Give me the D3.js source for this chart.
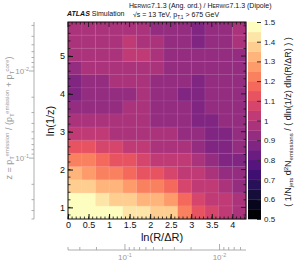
<!DOCTYPE html>
<html>
<head>
<meta charset="utf-8">
<script src="https://cdn.jsdelivr.net/npm/d3@7"></script>
<style>
  body { margin: 0; background: #fff; }
  svg { font-family: "Liberation Sans", Arial, sans-serif; }
</style>
</head>
<body>
<svg id="chart" width="297" height="264"></svg>
<script>
// bin edges of the Lund plane
var rEdges = [0, 0.333, 0.667, 1, 1.333, 1.667, 2, 2.333, 2.667, 3, 3.333, 3.667, 4, 4.333];
var zEdges = [0.693, 1.04, 1.387, 1.734, 2.081, 2.429, 2.776, 3.123, 3.47, 3.817, 4.164, 4.511, 4.858, 5.206, 5.553, 5.9];

// Herwig ang. ord. / dipole ratio, rows = ln(1/z) bins from bottom, cols = ln(R/dR) bins
var ratio = [
  [1.50, 1.49, 1.46, 1.45, 1.43, 1.40, 1.38, 1.36, 1.24, 1.12, 1.08, 1.02, 0.98],
  [1.47, 1.45, 1.40, 1.38, 1.36, 1.32, 1.30, 1.25, 1.15, 1.08, 1.04, 1.00, 0.96],
  [1.38, 1.36, 1.32, 1.30, 1.28, 1.24, 1.20, 1.15, 1.08, 1.04, 1.00, 0.97, 0.94],
  [1.30, 1.27, 1.22, 1.20, 1.18, 1.14, 1.10, 1.06, 1.03, 1.00, 0.96, 0.93, 0.90],
  [1.22, 1.20, 1.18, 1.14, 1.10, 1.06, 1.04, 1.02, 1.00, 0.96, 0.92, 0.89, 0.88],
  [1.14, 1.10, 1.08, 1.05, 1.03, 1.00, 0.98, 0.97, 0.95, 0.92, 0.89, 0.88, 0.90],
  [1.04, 1.02, 1.00, 0.98, 0.98, 0.97, 0.96, 0.95, 0.93, 0.90, 0.88, 0.89, 0.90],
  [0.98, 0.95, 0.95, 0.96, 0.95, 0.96, 0.94, 0.93, 0.92, 0.89, 0.88, 0.90, 0.91],
  [0.93, 0.92, 0.94, 0.94, 0.95, 0.95, 0.94, 0.92, 0.90, 0.88, 0.90, 0.92, 0.92],
  [0.88, 0.90, 0.93, 0.94, 0.94, 0.95, 0.93, 0.92, 0.89, 0.88, 0.90, 0.91, 0.92],
  [0.89, 0.92, 0.94, 0.95, 0.95, 0.96, 0.94, 0.93, 0.90, 0.89, 0.90, 0.92, 0.93],
  [0.94, 0.96, 0.96, 0.97, 0.98, 0.97, 0.95, 0.94, 0.91, 0.90, 0.91, 0.92, 0.94],
  [0.98, 0.97, 0.98, 0.97, 1.02, 1.00, 0.96, 0.94, 0.92, 0.90, 0.90, 0.92, 0.94],
  [0.98, 0.99, 0.98, 0.98, 1.00, 0.98, 0.96, 0.94, 0.91, 0.89, 0.90, 0.91, 0.95],
  [0.99, 0.98, 0.97, 0.98, 0.98, 0.96, 0.94, 0.93, 0.90, 0.89, 0.90, 0.91, 0.98]
];

var xTicks = [0, 0.5, 1, 1.5, 2, 2.5, 3, 3.5, 4];
var yTicks = [1, 2, 3, 4, 5];
var cTicks = [0.5, 0.6, 0.7, 0.8, 0.9, 1, 1.1, 1.2, 1.3, 1.4, 1.5];
var zTicks = [0.1, 0.01];
var dRTicks = [0.1, 0.01];
var jetR = 0.4;

var svg = d3.select("#chart");
var pl = 68, pr = 246, pt = 22, pb = 219;

var x = d3.scaleLinear().domain([0, 4.333]).range([pl, pr]);
var y = d3.scaleLinear().domain([0.693, 5.9]).range([pb, pt]);
var c = d3.scaleLinear().domain([0.5, 1.5]).range([pb, pt]);
var color = d3.scaleQuantize().domain([0.5, 1.5])
  .range(d3.range(20).map(function (i) { return d3.interpolateMagma(i / 19); }));

// rich text with sub/superscripts
function rich(t, parts, fs) {
  var cur = 0;
  parts.forEach(function (p) {
    var off = p[1] === "sup" ? -0.38 * fs : p[1] === "sub" ? 0.25 * fs : 0;
    t.append("tspan").attr("dy", off - cur)
      .attr("font-size", p[1] === "n" ? fs : p[1] === "sc" ? fs * 0.72 : fs * 0.68)
      .text(p[0]);
    cur = off;
  });
}

// cells
var cells = [];
ratio.forEach(function (row, i) {
  row.forEach(function (v, j) { cells.push({ i: i, j: j, v: v }); });
});
svg.append("g").selectAll("rect").data(cells).enter().append("rect")
  .attr("x", function (d) { return x(rEdges[d.j]); })
  .attr("y", function (d) { return y(zEdges[d.i + 1]); })
  .attr("width", function (d) { return x(rEdges[d.j + 1]) - x(rEdges[d.j]) + 0.3; })
  .attr("height", function (d) { return y(zEdges[d.i]) - y(zEdges[d.i + 1]) + 0.3; })
  .attr("fill", function (d) { return color(d.v); });

// faint bin grid
var grid = svg.append("g").attr("stroke", "#fff").attr("stroke-opacity", 0.13).attr("stroke-width", 0.8);
rEdges.slice(1, -1).forEach(function (e) {
  grid.append("line").attr("x1", x(e)).attr("x2", x(e)).attr("y1", pt).attr("y2", pb);
});
zEdges.slice(1, -1).forEach(function (e) {
  grid.append("line").attr("x1", pl).attr("x2", pr).attr("y1", y(e)).attr("y2", y(e));
});

// axes
var xAxis = svg.append("g").attr("transform", "translate(0," + pb + ")")
  .call(d3.axisBottom(x).tickValues(xTicks).tickSize(-5).tickPadding(3).tickFormat(d3.format("~g")));
var yAxis = svg.append("g").attr("transform", "translate(" + pl + ",0)")
  .call(d3.axisLeft(y).tickValues(yTicks).tickSize(-5).tickPadding(3).tickFormat(d3.format("~g")));
[xAxis, yAxis].forEach(function (a) {
  a.select(".domain").remove();
  a.selectAll("text").attr("font-size", 9).attr("fill", "#111");
  a.selectAll("line").attr("stroke", "#111");
});

var ticks = svg.append("g").attr("stroke", "#111").attr("stroke-width", 0.8);
d3.range(0, 4.35, 0.1).forEach(function (v) {
  var len = xTicks.indexOf(Math.round(v * 10) / 10) >= 0 ? 5 : 2.5;
  ticks.append("line").attr("x1", x(v)).attr("x2", x(v)).attr("y1", pb).attr("y2", pb - 2.5);
  ticks.append("line").attr("x1", x(v)).attr("x2", x(v)).attr("y1", pt).attr("y2", pt + len);
});
d3.range(0.8, 5.9, 0.2).forEach(function (v) {
  var len = Math.abs(v - Math.round(v)) < 0.01 ? 5 : 2.5;
  ticks.append("line").attr("x1", pl).attr("x2", pl + 2.5).attr("y1", y(v)).attr("y2", y(v));
  ticks.append("line").attr("x1", pr).attr("x2", pr - len).attr("y1", y(v)).attr("y2", y(v));
});
svg.append("rect").attr("x", pl).attr("y", pt).attr("width", pr - pl).attr("height", pb - pt)
  .attr("fill", "none").attr("stroke", "#111").attr("stroke-width", 1);

// axis titles
svg.append("text").attr("x", 162).attr("y", 241).attr("text-anchor", "middle")
  .attr("font-size", 11).attr("fill", "#111").text("ln(R/ΔR)");
svg.append("text").attr("transform", "translate(54,121) rotate(-90)").attr("text-anchor", "middle")
  .attr("font-size", 11).attr("fill", "#111").text("ln(1/z)");

// colour bar
var cb = svg.append("g");
d3.range(20).forEach(function (k) {
  var lo = 0.5 + k * 0.05;
  cb.append("rect").attr("x", 248).attr("width", 13)
    .attr("y", c(lo + 0.05)).attr("height", c(lo) - c(lo + 0.05) + 0.3)
    .attr("fill", color(lo + 0.025));
});
var cAxis = svg.append("g").attr("transform", "translate(261,0)")
  .call(d3.axisRight(c).tickValues(cTicks).tickSize(-4).tickPadding(3).tickFormat(d3.format("~g")));
cAxis.select(".domain").remove();
cAxis.selectAll("text").attr("font-size", 8).attr("fill", "#222");
cAxis.selectAll("line").attr("stroke", "#333");

var rt = svg.append("text").attr("transform", "translate(291,122) rotate(-90)")
  .attr("text-anchor", "middle").attr("fill", "#222");
rich(rt, [["( 1/N", "n"], ["jets", "sub"], [" d", "n"], ["2", "sup"], ["N", "n"], ["emissions", "sub"],
  [" / ( dln(1/z) dln(R/ΔR) ) )", "n"]], 9);

// secondary z axis (left)
var zs = d3.scaleLog().domain([Math.exp(-0.693), Math.exp(-5.9)]).range([pb, pt]);
var grey = "#9a9a9a";
var za = svg.append("g").attr("stroke", grey).attr("stroke-width", 0.8);
za.append("line").attr("x1", 34).attr("x2", 34).attr("y1", pt).attr("y2", pb);
[0.001, 0.01, 0.1].forEach(function (dec) {
  d3.range(1, 10).forEach(function (m) {
    var v = dec * m;
    if (v > 0.5 || v < Math.exp(-5.9)) return;
    za.append("line").attr("x1", 34).attr("x2", m === 1 ? 29 : 31.5).attr("y1", zs(v)).attr("y2", zs(v));
  });
});
zTicks.forEach(function (v) {
  var t = svg.append("text").attr("x", 29).attr("y", zs(v) + 3).attr("text-anchor", "end").attr("fill", grey);
  rich(t, [["10", "n"], [String(Math.round(Math.log10(v))), "sup"]], 8);
});
var zl = svg.append("text").attr("transform", "translate(12,118) rotate(-90)")
  .attr("text-anchor", "middle").attr("fill", grey);
rich(zl, [["z = p", "n"], ["T", "sub"], ["emission", "sup"], [" / (p", "n"], ["T", "sub"], ["emission", "sup"],
  [" + p", "n"], ["T", "sub"], ["core", "sup"], [")", "n"]], 9);

// secondary dR axis (bottom)
var ds = d3.scaleLog().domain([jetR, jetR * Math.exp(-4.333)]).range([pl, pr]);
var da = svg.append("g").attr("stroke", grey).attr("stroke-width", 0.8);
da.append("line").attr("x1", pl).attr("x2", pr).attr("y1", 250).attr("y2", 250);
[0.001, 0.01, 0.1].forEach(function (dec) {
  d3.range(1, 10).forEach(function (m) {
    var v = dec * m;
    if (v > jetR || v < jetR * Math.exp(-4.333)) return;
    da.append("line").attr("x1", ds(v)).attr("x2", ds(v)).attr("y1", 250).attr("y2", m === 1 ? 244 : 247);
  });
});
dRTicks.forEach(function (v) {
  var t = svg.append("text").attr("x", ds(v)).attr("y", 260).attr("text-anchor", "middle").attr("fill", grey);
  rich(t, [["10", "n"], [String(Math.round(Math.log10(v))), "sup"]], 8);
});
svg.append("text").attr("x", 140).attr("y", 271.5).attr("text-anchor", "middle")
  .attr("font-size", 10).attr("fill", grey).text("ΔR = R · e^(−ln(R/ΔR))");

// labels on top
svg.append("text").attr("x", 67).attr("y", 16).attr("font-size", 7).attr("fill", "#111")
  .html('<tspan font-weight="bold" font-style="italic">ATLAS</tspan> Simulation');
var h = svg.append("text").attr("x", 129).attr("y", 8).attr("fill", "#111");
rich(h, [["H", "n"], ["ERWIG", "sc"], ["7.1.3 (Ang. ord.) / H", "n"], ["ERWIG", "sc"], ["7.1.3 (Dipole)", "n"]], 7);
var s = svg.append("text").attr("x", 133).attr("y", 17).attr("fill", "#111");
rich(s, [["√s = 13 TeV, p", "n"], ["T,1", "sub"], [" > 675 GeV", "n"]], 7);
</script>
</body>
</html>
